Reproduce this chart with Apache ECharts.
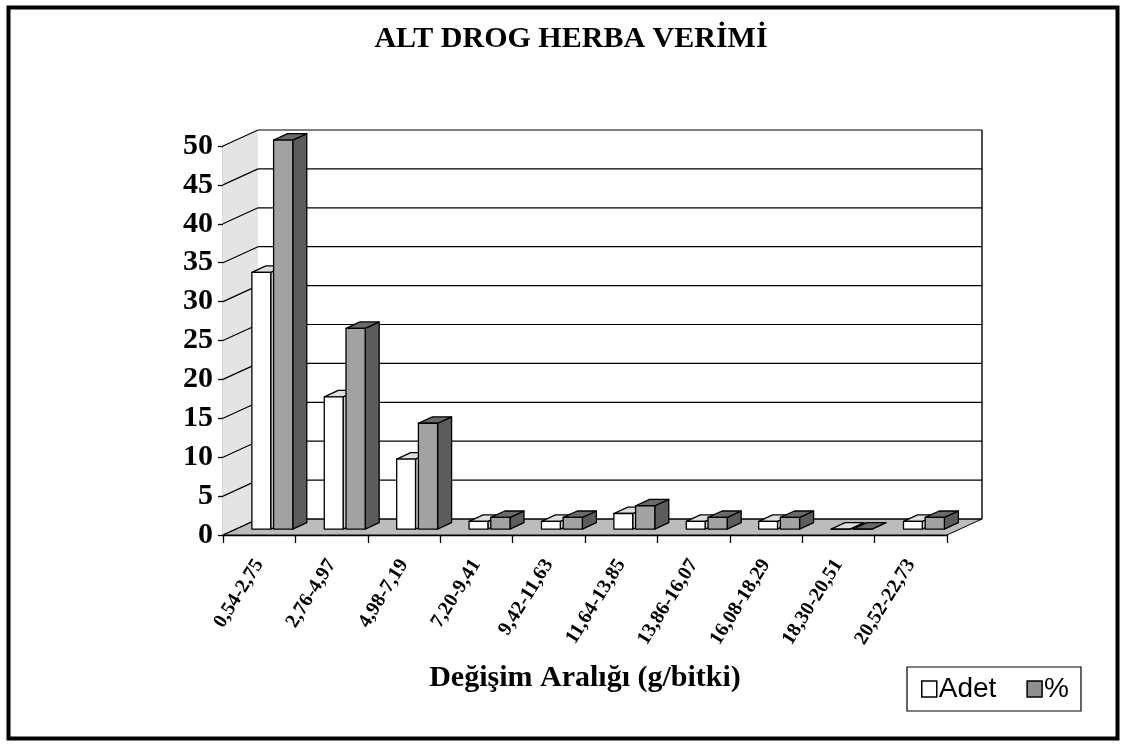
<!DOCTYPE html>
<html>
<head>
<meta charset="utf-8">
<script src="https://cdn.jsdelivr.net/npm/echarts@6/dist/echarts.min.js"></script>
<style>
html, body { margin: 0; padding: 0; background: #fff; }
#chart { width: 1121px; height: 747px; }
</style>
</head>
<body>
<div id="chart"></div>
<script>
var categories = ['0,54-2,75', '2,76-4,97', '4,98-7,19', '7,20-9,41', '9,42-11,63',
  '11,64-13,85', '13,86-16,07', '16,08-18,29', '18,30-20,51', '20,52-22,73'];
var adet = [33, 17, 9, 1, 1, 2, 1, 1, 0, 1];
var yuzde = [50, 25.8, 13.6, 1.5, 1.5, 3.0, 1.5, 1.5, 0, 1.5];
var yTicks = [0, 5, 10, 15, 20, 25, 30, 35, 40, 45, 50];

var SERIF = "'Liberation Serif', 'Times New Roman', serif";
var SANS = "'Liberation Sans', Arial, sans-serif";

// fake 3d: vector from the front plane to the back wall
var DEPTH = [35, -16];
var BAR_SHIFT = 0.37;   // bars stand this far back on the floor
var BAR_DEPTH = 0.4;    // how deep a bar is

function line(x1, y1, x2, y2, w) {
  return { type: 'line', shape: { x1: x1, y1: y1, x2: x2, y2: y2 },
    style: { stroke: '#000', lineWidth: w || 1 } };
}

// walls, floor and the grid lines on them
function renderFrame(params, api) {
  var cs = params.coordSys;
  var v = api.value(1);
  var x = cs.x, w = cs.width;
  var y0 = api.coord([0, 0])[1];
  var yTop = api.coord([0, yTicks[yTicks.length - 1]])[1];
  var yv = api.coord([0, v])[1];
  var dx = DEPTH[0], dy = DEPTH[1];
  var children = [];
  if (params.dataIndex === 0) {
    children.push({ type: 'polygon',
      shape: { points: [[x, y0], [x + dx, y0 + dy], [x + dx, yTop + dy], [x, yTop]] },
      style: { fill: '#e4e4e4', stroke: null } });
    children.push({ type: 'polygon',
      shape: { points: [[x, y0], [x + w, y0], [x + w + dx, y0 + dy], [x + dx, y0 + dy]] },
      style: { fill: '#bcbcbc', stroke: '#000', lineWidth: 1 } });
  }
  children.push(line(x, yv, x + dx, yv + dy, 1.2));
  children.push(line(x + dx, yv + dy, x + w + dx, yv + dy, 1.2));
  if (params.dataIndex === yTicks.length - 1) {
    children.push(line(x + w + dx, yTop + dy, x + w + dx, y0 + dy, 1.4));
  }
  return { type: 'group', children: children };
}

function barRenderer(from, to, frontColor, topColor, sideColor) {
  return function (params, api) {
    var c = api.value(0), v = api.value(1);
    var base = api.coord([c, 0]);
    var head = api.coord([c, v]);
    var band = api.size([1, 0])[0];
    var sx = DEPTH[0] * BAR_SHIFT, sy = DEPTH[1] * BAR_SHIFT;
    var dx = DEPTH[0] * BAR_DEPTH, dy = DEPTH[1] * BAR_DEPTH;
    var x0 = base[0] + sx + band * from, x1 = base[0] + sx + band * to;
    var yb = base[1] + sy, yt = head[1] + sy;
    var st = { stroke: '#000', lineWidth: 1.3, lineJoin: 'round' };
    return { type: 'group', children: [
      { type: 'polygon', shape: { points: [[x1, yt], [x1 + dx, yt + dy], [x1 + dx, yb + dy], [x1, yb]] },
        style: Object.assign({ fill: sideColor }, st) },
      { type: 'polygon', shape: { points: [[x0, yt], [x1, yt], [x1 + dx, yt + dy], [x0 + dx, yt + dy]] },
        style: Object.assign({ fill: topColor }, st) },
      { type: 'rect', shape: { x: x0, y: yt, width: x1 - x0, height: yb - yt },
        style: Object.assign({ fill: frontColor }, st) }
    ] };
  };
}

var chart = echarts.init(document.getElementById('chart'));
chart.setOption({
  backgroundColor: '#fff',
  animation: false,
  title: {
    text: 'ALT DROG HERBA VERİMİ',
    left: 566, top: 19, textAlign: 'center',
    textStyle: { fontFamily: SERIF, fontWeight: 'bold', fontSize: 30, color: '#000' }
  },
  legend: {
    left: 907, top: 667,
    orient: 'horizontal',
    padding: [8, 12, 8, 14],
    borderColor: '#000', borderWidth: 1.2,
    itemWidth: 15, itemHeight: 16, itemGap: 30,
    icon: 'rect',
    textStyle: { fontFamily: SANS, fontSize: 28, color: '#000', padding: [0, 0, 0, -3] },
    data: [
      { name: 'Adet', itemStyle: { color: '#fff', borderColor: '#000', borderWidth: 1.5 } },
      { name: '%', itemStyle: { color: '#8f8f8f', borderColor: '#000', borderWidth: 1.5 } }
    ]
  },
  graphic: [{
    type: 'rect', left: 6, top: 5,
    shape: { width: 1109, height: 731 },
    style: { fill: null, stroke: '#000', lineWidth: 4 }
  }],
  grid: { left: 223, right: 174, top: 146, bottom: 212 },
  xAxis: {
    type: 'category',
    data: categories,
    name: 'Değişim Aralığı (g/bitki)',
    nameLocation: 'middle',
    nameGap: 128,
    nameTextStyle: { fontFamily: SERIF, fontWeight: 'bold', fontSize: 30, color: '#000' },
    axisLine: { lineStyle: { color: '#000', width: 1.3 } },
    axisTick: { show: true, length: 8, lineStyle: { color: '#000', width: 1.3 } },
    axisLabel: {
      rotate: 58, margin: 26, interval: 0,
      fontFamily: SERIF, fontWeight: 'bold', fontSize: 20, color: '#000'
    },
    splitLine: { show: false }
  },
  yAxis: {
    type: 'value',
    min: 0, max: 50, interval: 5,
    axisLine: { show: true, lineStyle: { color: '#000', width: 1.3 } },
    axisTick: { show: true, length: 5, lineStyle: { color: '#000', width: 1.3 } },
    axisLabel: { margin: 10, fontFamily: SERIF, fontWeight: 'bold', fontSize: 30, color: '#000' },
    splitLine: { show: false }
  },
  series: [
    {
      type: 'custom', name: 'frame', silent: true, z: 1,
      renderItem: renderFrame,
      encode: { x: 0, y: 1 },
      data: yTicks.map(function (v) { return [0, v]; })
    },
    {
      type: 'custom', name: 'Adet', z: 3,
      itemStyle: { color: '#fff', borderColor: '#000' },
      renderItem: barRenderer(-0.28, -0.02, '#ffffff', '#dedede', '#cfcfcf'),
      encode: { x: 0, y: 1 },
      data: adet.map(function (v, i) { return [i, v]; })
    },
    {
      type: 'custom', name: '%', z: 3,
      itemStyle: { color: '#8f8f8f', borderColor: '#000' },
      renderItem: barRenderer(0.02, 0.285, '#a2a2a2', '#6a6a6a', '#5c5c5c'),
      encode: { x: 0, y: 1 },
      data: yuzde.map(function (v, i) { return [i, v]; })
    }
  ]
});
</script>
</body>
</html>
